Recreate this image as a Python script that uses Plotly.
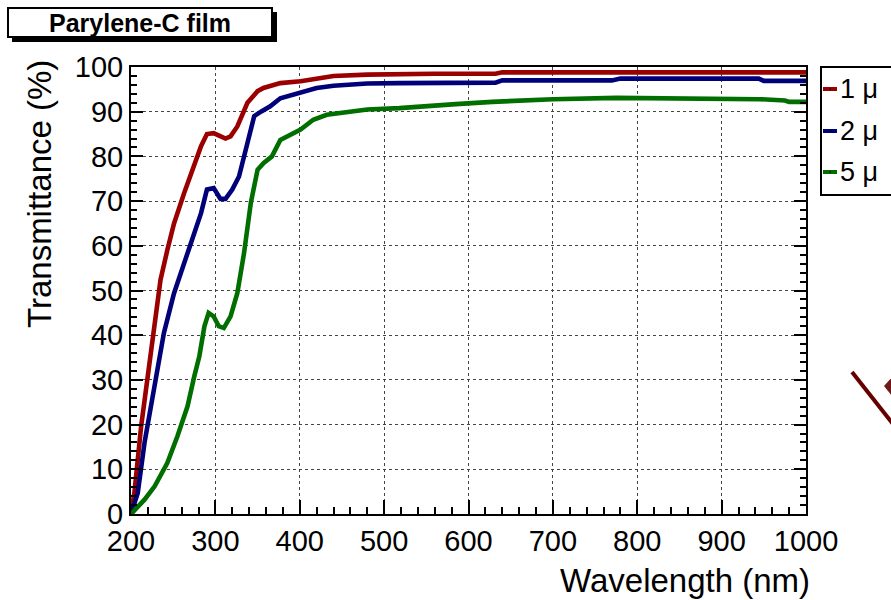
import plotly.graph_objects as go

# ---------------- data ----------------
wl_1um = [200, 204, 212, 220, 228, 235, 243, 251, 263, 275, 283, 290, 298, 305, 312, 318, 326,
          338, 350, 357, 365, 377, 401, 420, 440, 480, 520, 560, 600, 632, 640, 700, 800, 900, 1000]
t_1um = [0, 4.7, 19.6, 30.8, 43.5, 52.4, 59, 65, 71.8, 78.5, 82.3, 85, 85.2, 84.6, 84, 84.5, 86.7,
         92, 94.6, 95.3, 95.7, 96.4, 96.8, 97.5, 98, 98.3, 98.5, 98.5, 98.5, 98.5, 98.8, 98.8, 98.8, 98.8, 98.8]

wl_2um = [200, 208, 216, 228, 239, 251, 263, 275, 283, 290, 298, 306, 312, 320, 328, 338, 346,
          354, 365, 377, 401, 420, 440, 480, 518, 632, 640, 770, 780, 944, 950, 1000]
t_2um = [0, 4.7, 15.9, 29.3, 40.5, 49.4, 56.2, 62.9, 67.3, 72.6, 72.9, 70.5, 70.5, 72.6, 75.5, 83, 89,
         90, 91.2, 93, 94.2, 95.3, 95.8, 96.3, 96.4, 96.5, 97.0, 97.0, 97.4, 97.4, 96.9, 96.9]

wl_5um = [200, 216, 228, 243, 255, 267, 275, 281, 287, 292, 298, 304, 310, 318, 326, 334, 342,
          350, 357, 367, 377, 389, 401, 416, 432, 448, 480, 518, 550, 585, 628, 664, 700, 775,
          936, 945, 975, 980, 1000]
t_5um = [0, 3.2, 6.2, 11.4, 17.4, 24.1, 30.8, 35.3, 42, 45, 44.2, 42, 41.6, 44.2, 49.4, 58.4, 69.6,
         77, 78.5, 80, 83.7, 84.9, 86, 88.2, 89.3, 89.7, 90.5, 90.8, 91.3, 91.7, 92.2, 92.5, 92.8, 93.1,
         93.0, 92.8, 92.5, 92.2, 92.2]

series_names = ["1 μ", "2 μ", "5 μ"]
series_colors = ["#9b0000", "#000078", "#006f00"]

x_ticks = [200, 300, 400, 500, 600, 700, 800, 900, 1000]
y_ticks = [0, 10, 20, 30, 40, 50, 60, 70, 80, 90, 100]

title_text = "Parylene-C film"
x_title = "Wavelength (nm)"
y_title = "Transmittance (%)"

# ---------------- layout geometry (pixels) ----------------
W, H = 891, 600
L, R, T, B = 131, 85, 67, 86
PW, PH = W - L - R, H - T - B


def px(x):
    return (x - L) / PW


def py(y):
    return (H - B - y) / PH


FONT = "Liberation Sans, Arial, sans-serif"

fig = go.Figure()
for wl, t, name, col in zip([wl_1um, wl_2um, wl_5um], [t_1um, t_2um, t_5um], series_names, series_colors):
    fig.add_trace(go.Scatter(x=wl, y=t, mode="lines", name=name,
                             line=dict(color=col, width=4.6), showlegend=False))

axis_common = dict(
    showline=True, linecolor="black", linewidth=2,
    ticks="inside", tickcolor="black", tickwidth=2,
    showgrid=True, gridcolor="#444444", gridwidth=1, griddash="dot",
    zeroline=False,
    tickfont=dict(family=FONT, size=29, color="black"),
)

fig.update_xaxes(range=[200, 1000], tickvals=x_ticks, ticktext=[str(v) for v in x_ticks],
                 ticklen=14, mirror=True,
                 minor=dict(dtick=20, ticklen=7, ticks="inside", tickcolor="black", tickwidth=2, showgrid=False),
                 **axis_common)
fig.update_yaxes(range=[0, 100], tickvals=y_ticks, ticktext=[str(v) for v in y_ticks],
                 ticklen=12, mirror="ticks",
                 minor=dict(dtick=2, ticklen=6, ticks="inside", tickcolor="black", tickwidth=2, showgrid=False),
                 **axis_common)

shapes = []
annotations = []

# title box with shadow
shapes.append(dict(type="rect", xref="paper", yref="paper", x0=px(12), x1=px(277), y0=py(12), y1=py(42),
                   fillcolor="black", line=dict(color="black", width=0), layer="above"))
shapes.append(dict(type="rect", xref="paper", yref="paper", x0=px(8), x1=px(272), y0=py(8), y1=py(37),
                   fillcolor="white", line=dict(color="black", width=2), layer="above"))
annotations.append(dict(text="<b>" + title_text + "</b>", xref="paper", yref="paper",
                        x=px(140), y=py(23), xanchor="center", yanchor="middle", showarrow=False,
                        font=dict(family=FONT, size=25, color="black")))

# legend box (drawn manually, partially outside canvas)
shapes.append(dict(type="rect", xref="paper", yref="paper", x0=px(821), x1=px(905), y0=py(67), y1=py(195),
                   fillcolor="white", line=dict(color="black", width=2), layer="above"))
leg_y = [89, 131, 172]
for name, col, yy in zip(series_names, series_colors, leg_y):
    shapes.append(dict(type="line", xref="paper", yref="paper", x0=px(823), x1=px(837), y0=py(yy), y1=py(yy),
                       line=dict(color=col, width=4), layer="above"))
    shapes.append(dict(type="rect", xref="paper", yref="paper", x0=px(829.5), x1=px(831), y0=py(yy - 0.7),
                       y1=py(yy + 0.7), fillcolor="black", line=dict(width=0), layer="above"))
    annotations.append(dict(text=name, xref="paper", yref="paper", x=px(838), y=py(yy),
                            xanchor="left", yanchor="middle", showarrow=False,
                            font=dict(family=FONT, size=27, color="black")))

# axis titles (ROOT style: right / top aligned)
annotations.append(dict(text=x_title, xref="paper", yref="paper", x=px(812), y=py(580),
                        xanchor="right", yanchor="middle", showarrow=False,
                        font=dict(family=FONT, size=33, color="black")))
annotations.append(dict(text=y_title, xref="paper", yref="paper", x=px(40), y=py(58),
                        xanchor="center", yanchor="top", showarrow=False, textangle=-90,
                        font=dict(family=FONT, size=33, color="black")))

# stray dark-red arrow fragment at the right edge
shapes.append(dict(type="line", xref="paper", yref="paper", x0=px(852), y0=py(372), x1=px(893), y1=py(424),
                   line=dict(color="#660000", width=4), layer="above"))
shapes.append(dict(type="path", xref="paper", yref="paper",
                   path=f"M {px(892)} {py(377)} L {px(884)} {py(386)} L {px(892)} {py(396)} Z",
                   fillcolor="#6e1a1a", line=dict(width=0), layer="above"))

fig.update_layout(
    width=W, height=H,
    margin=dict(l=L, r=R, t=T, b=B, pad=0),
    paper_bgcolor="white", plot_bgcolor="white",
    shapes=shapes, annotations=annotations,
    showlegend=False,
)

fig.write_html("out.html")
